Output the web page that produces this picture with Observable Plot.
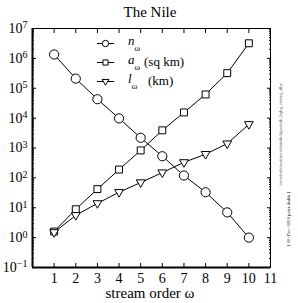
<!DOCTYPE html>
<html><head><meta charset="utf-8">
<script src="https://cdn.jsdelivr.net/npm/d3@7"></script>
<script src="https://cdn.jsdelivr.net/npm/@observablehq/plot@0.6"></script>
<style>body{margin:0;background:#fff}</style>
</head><body><div id="chart"></div>
<script>
const order = [1, 2, 3, 4, 5, 6, 7, 8, 9, 10];
const nOmega = [1.35e6, 2.1e5, 4.3e4, 9.8e3, 2.2e3, 530, 120, 33, 7, 1];
const aOmega = [1.6, 8.9, 42, 190, 830, 3900, 1.55e4, 6.2e4, 3.2e5, 3.2e6];
const lOmega = [1.5, 5.6, 14, 33, 70, 150, 330, 620, 1400, 6200];
const xTicks = [1, 2, 3, 4, 5, 6, 7, 8, 9, 10, 11];
const yExponents = [-1, 0, 1, 2, 3, 4, 5, 6, 7];
const titleText = "The Nile";
const xLabel = "stream order ω";
const legendNames = ["n", "a", "l"];
const legendUnits = ["", "(sq km)", "(km)"];
const sideNote = "[ 10\u2212Dec\u22121999 peter dodds ]";
const sideFile = "/users/dodds/work/rivers/data/nile/figures/nile_loglog_ordering_all.ps";

const FONT = "'Liberation Serif', 'DejaVu Serif', serif";
const yTicks = yExponents.map(e => Math.pow(10, e));
const minorTicks = [];
for (let e = -1; e < 7; e++) for (let m = 2; m <= 9; m++) minorTicks.push(m * Math.pow(10, e));

const triDown = {
  draw(ctx, size) {
    const r = Math.sqrt(size / Math.PI) * 1.25;
    ctx.moveTo(0, r);
    ctx.lineTo(-r * 0.9, -r * 0.55);
    ctx.lineTo(r * 0.9, -r * 0.55);
    ctx.closePath();
  }
};

const seriesDefs = [
  {key: "n", values: nOmega, symbol: "circle", r: 4.6, lr: 3.2},
  {key: "a", values: aOmega, symbol: "square", r: 3.9, lr: 2.9},
  {key: "l", values: lOmega, symbol: triDown, r: 3.9, lr: 3.0}
];
const rows = seriesDefs.flatMap(s => order.map((o, i) => ({order: o, value: s.values[i], key: s.key})));

const marks = [];
for (const s of seriesDefs) {
  const d = rows.filter(r => r.key === s.key);
  marks.push(Plot.line(d, {x: "order", y: "value", stroke: "black", strokeWidth: 1}));
  marks.push(Plot.dot(d, {x: "order", y: "value", symbol: () => s.symbol, r: s.r, stroke: "black", strokeWidth: 1, fill: "white"}));
}

const plot = Plot.plot({
  width: 298, height: 303,
  marginLeft: 32, marginRight: 28, marginTop: 28, marginBottom: 36,
  style: {fontFamily: FONT, fontSize: "13px", background: "white", color: "black"},
  x: {domain: [0, 11]},
  y: {type: "log", domain: [1e-1, 1e7]},
  symbol: {type: "identity"},
  marks: [
    Plot.frame({stroke: "black", strokeWidth: 1}),
    Plot.ruleX([0], {stroke: "black", strokeWidth: 2}),
    Plot.ruleY([1e-1], {stroke: "black", strokeWidth: 2}),
    Plot.axisX(xTicks, {anchor: "bottom", tickSize: -4, tickPadding: 10, fontSize: 14, label: null}),
    Plot.axisX(xTicks, {anchor: "top", tickSize: -4, text: null, label: null}),
    Plot.axisY(yTicks, {anchor: "left", tickSize: -4, tickPadding: 9, fontSize: 14, tickFormat: v => "10^" + Math.round(Math.log10(v)), label: null}),
    Plot.axisY(yTicks, {anchor: "right", tickSize: -4, text: null, label: null}),
    Plot.axisY(minorTicks, {anchor: "left", tickSize: -2, text: null, label: null}),
    Plot.axisY(minorTicks, {anchor: "right", tickSize: -2, text: null, label: null}),
    ...marks
  ]
});
document.getElementById("chart").appendChild(plot);

const svg = d3.select(plot);
// superscripts on y tick labels
svg.selectAll("text").each(function () {
  const t = d3.select(this);
  const s = t.text();
  const m = /^10\^(-?\d+)$/.exec(s);
  if (m) {
    t.text("10");
    t.append("tspan").attr("dy", "-0.45em").attr("font-size", "10px").text(m[1].replace("-", "\u2212"));
  }
});

// title & x label
svg.append("text").attr("x", 150).attr("y", 17).attr("text-anchor", "middle").attr("font-family", FONT)
  .attr("font-size", 15).attr("fill", "black").text(titleText);
svg.append("text").attr("x", 150).attr("y", 298).attr("text-anchor", "middle").attr("font-family", FONT)
  .attr("font-size", 15).attr("fill", "black").text(xLabel);

// legend
const unitX = [0, 144, 148];
const lg = svg.append("g").attr("fill", "black").attr("font-family", FONT).attr("text-anchor", "start");
seriesDefs.forEach((s, i) => {
  const y = 43.5 + i * 19;
  lg.append("line").attr("x1", 97).attr("x2", 114).attr("y1", y).attr("y2", y).attr("stroke", "black");
  const p = d3.path();
  const sym = s.symbol === "circle" ? d3.symbolCircle : s.symbol === "square" ? d3.symbolSquare : triDown;
  sym.draw(p, s.lr * s.lr * Math.PI);
  lg.append("path").attr("d", p.toString()).attr("transform", `translate(105.5,${y})`)
    .attr("fill", "white").attr("stroke", "black");
  const t = lg.append("text").attr("x", 128).attr("y", y + 1.5).attr("font-size", 13).attr("fill", "black");
  t.append("tspan").attr("font-style", "italic").text(legendNames[i]);
  t.append("tspan").attr("font-size", 8.5).attr("dy", 6).text("ω");
  if (legendUnits[i]) t.append("tspan").attr("x", unitX[i]).attr("dy", -4).text(legendUnits[i]);
});

// side notes
svg.append("text").attr("transform", "translate(289.5,246) rotate(-90)").attr("font-family", FONT).attr("text-anchor", "start")
  .attr("font-size", 5).attr("textLength", 54).attr("lengthAdjust", "spacingAndGlyphs").attr("fill", "black").text(sideNote);
svg.append("text").attr("transform", "translate(282,186) rotate(-90)").attr("font-family", FONT).attr("text-anchor", "start")
  .attr("font-size", 3).attr("textLength", 103).attr("lengthAdjust", "spacingAndGlyphs").attr("fill", "#555").text(sideFile);
</script></body></html>
